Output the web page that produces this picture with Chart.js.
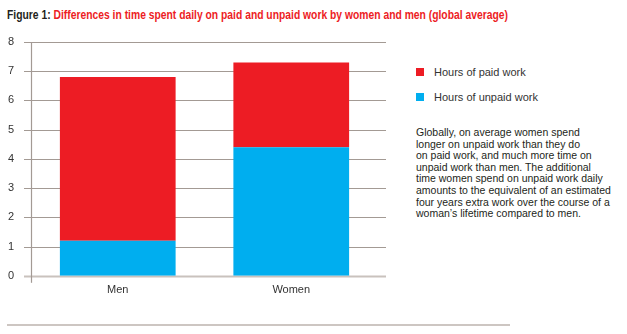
<!DOCTYPE html>
<html>
<head>
<meta charset="utf-8">
<script src="https://cdn.jsdelivr.net/npm/chart.js@4.4.1/dist/chart.umd.min.js"></script>
<style>
  html, body { margin:0; padding:0; background:#fff; }
  body { width:627px; height:334px; position:relative; overflow:hidden; font-family:"Liberation Sans", Arial, sans-serif; color:#333; }
  #title { position:absolute; left:7px; top:7px; font-size:13.5px; font-weight:bold; white-space:nowrap;
           font-family:"Liberation Sans", Arial, sans-serif; transform-origin:0 0; }
  #title .fig { color:#231f20; }
  #title .txt { color:#ed1c24; }
  #chartWrap { position:absolute; left:0; top:0; width:400px; height:297px; }
  .leg { position:absolute; left:416px; font-size:11px; color:#333; }
  .leg i { position:absolute; left:0; top:1px; width:8px; height:8px; }
  .leg span { position:absolute; left:18px; top:-1px; white-space:nowrap; }
  #note { position:absolute; left:416px; top:127px; width:200px; font-size:10.5px; line-height:11.6px; color:#231f20; white-space:nowrap; }
  #rule { position:absolute; left:7px; top:324px; width:503px; height:2px; background:#cdc6c2; }
</style>
</head>
<body>
<div id="title"><span class="fig">Figure 1:</span> <span class="txt">Differences in time spent daily on paid and unpaid work by women and men (global average)</span></div>
<div id="chartWrap"><canvas id="c" width="400" height="297"></canvas></div>
<div class="leg" style="top:67px"><i style="background:#ed1c24"></i><span>Hours of paid work</span></div>
<div class="leg" style="top:92px"><i style="background:#00aeef"></i><span>Hours of unpaid work</span></div>
<div id="note">Globally, on average women spend<br>longer on unpaid work than they do<br>on paid work, and much more time on<br>unpaid work than men. The additional<br>time women spend on unpaid work daily<br>amounts to the equivalent of an estimated<br>four years extra work over the course of a<br>woman’s lifetime compared to men.</div>
<div id="rule"></div>
<script>
const categories = ['Men', 'Women'];
const unpaidHours = [1.2, 4.4];
const paidHours = [5.6, 2.9];
const yTicks = [0, 1, 2, 3, 4, 5, 6, 7, 8];

const RED = '#ed1c24';
const BLUE = '#00aeef';
const GRID = '#a39a94';

// the title is set in a condensed face in the original; squeeze it to the same width
const title = document.getElementById('title');
title.style.transform = 'scaleX(' + (501 / title.offsetWidth) + ')';

// grid lines run a little past the plot on both sides, drawn behind bars
const gridPlugin = {
  id: 'extGrid',
  beforeDatasetsDraw(chart){
    const {ctx, chartArea, scales} = chart;
    const y = scales.y;
    ctx.save();
    yTicks.forEach(v => {
      const py = Math.round(y.getPixelForValue(v)) + 0.5;
      ctx.strokeStyle = v === 0 ? '#c9c2bd' : GRID;
      ctx.lineWidth = v === 0 ? 2 : 1.2;
      ctx.beginPath();
      ctx.moveTo(chartArea.left - 7, py);
      ctx.lineTo(chartArea.right + 8, py);
      ctx.stroke();
    });
    ctx.strokeStyle = GRID;
    ctx.lineWidth = 1.2;
    ctx.beginPath();
    ctx.moveTo(chartArea.left + 0.5, y.getPixelForValue(8));
    ctx.lineTo(chartArea.left + 0.5, y.getPixelForValue(0) + 7);
    ctx.stroke();
    ctx.restore();
  }
};

new Chart(document.getElementById('c'), {
  type: 'bar',
  data: {
    labels: categories,
    datasets: [
      { label: 'Hours of unpaid work', data: unpaidHours, backgroundColor: BLUE, borderWidth: 0 },
      { label: 'Hours of paid work', data: paidHours, backgroundColor: RED, borderWidth: 0 }
    ]
  },
  options: {
    responsive: false,
    animation: false,
    layout: { padding: { left: 0, right: 22, top: 42, bottom: 0 } },
    plugins: { legend: { display: false }, tooltip: { enabled: false } },
    datasets: { bar: { categoryPercentage: 1, barPercentage: 0.667 } },
    scales: {
      x: {
        stacked: true,
        grid: { display: false },
        border: { display: false },
        ticks: { color: '#333', font: { family: 'Liberation Sans', size: 11 }, padding: 0 }
      },
      y: {
        stacked: true,
        min: 0, max: 8,
        afterFit(s){ s.width = 31; },
        afterBuildTicks(s){ s.ticks = yTicks.map(v => ({value: v})); },
        grid: { display: false },
        border: { display: false },
        ticks: { color: '#333', font: { family: 'Liberation Sans', size: 11 }, padding: 9 }
      }
    }
  },
  plugins: [gridPlugin]
});
</script>
</body>
</html>
